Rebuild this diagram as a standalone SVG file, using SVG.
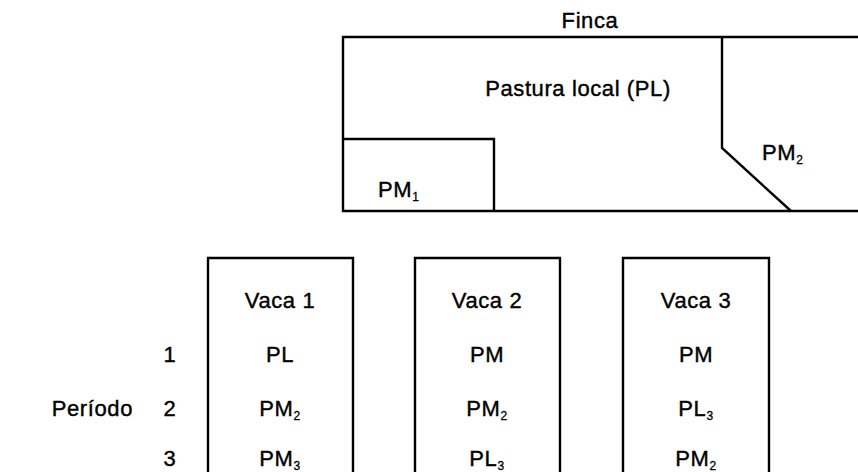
<svg xmlns="http://www.w3.org/2000/svg" width="858" height="472" viewBox="0 0 858 472">
<style>
text{font-family:"Liberation Sans",Arial,sans-serif;font-size:22px;fill:#000;stroke:#000;stroke-width:0.4px;letter-spacing:0.6px}
.c{text-anchor:middle}
.e{text-anchor:end}
.ln{fill:none;stroke:#000;stroke-width:2.4;stroke-linejoin:miter}
.sub{font-size:12px;stroke-width:0.3px}
</style>
<rect width="858" height="472" fill="#fff"/>
<g id="finca">
<path class="ln" d="M858 37 H343 V211 H858"/>
<text class="c" x="590" y="28">Finca</text>
</g>
<g id="pl">
<text class="c" x="578" y="96">Pastura local (PL)</text>
</g>
<g id="pm1">
<path class="ln" d="M343 139 H494 V211"/>
<text x="378" y="197">PM<tspan class="sub" dy="4">1</tspan></text>
</g>
<g id="pm2">
<path class="ln" d="M722 37 V148 L791 211"/>
<text x="762" y="160">PM<tspan class="sub" dy="4">2</tspan></text>
</g>
<g id="periodo">
<text class="e" x="133" y="416">Período</text>
<text class="c" x="170" y="362">1</text>
<text class="c" x="170" y="416">2</text>
<text class="c" x="170" y="466">3</text>
</g>
<g id="vaca1">
<path class="ln" d="M208 472 V258 H353 V472"/>
<text class="c" x="280" y="308">Vaca 1</text>
<text class="c" x="280" y="362">PL</text>
<text class="c" x="280" y="416">PM<tspan class="sub" dy="4">2</tspan></text>
<text class="c" x="280" y="466">PM<tspan class="sub" dy="4">3</tspan></text>
</g>
<g id="vaca2">
<path class="ln" d="M415 472 V258 H560 V472"/>
<text class="c" x="487" y="308">Vaca 2</text>
<text class="c" x="487" y="362">PM</text>
<text class="c" x="487" y="416">PM<tspan class="sub" dy="4">2</tspan></text>
<text class="c" x="487" y="466">PL<tspan class="sub" dy="4">3</tspan></text>
</g>
<g id="vaca3">
<path class="ln" d="M623 472 V258 H769 V472"/>
<text class="c" x="696" y="308">Vaca 3</text>
<text class="c" x="696" y="362">PM</text>
<text class="c" x="696" y="416">PL<tspan class="sub" dy="4">3</tspan></text>
<text class="c" x="696" y="466">PM<tspan class="sub" dy="4">2</tspan></text>
</g>
<g id="connectors"></g>
</svg>
